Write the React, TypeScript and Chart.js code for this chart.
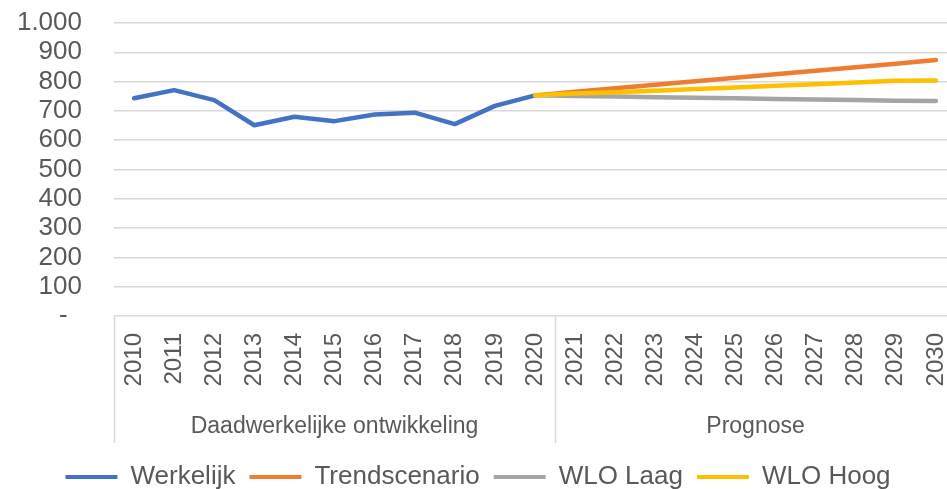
import React, { useEffect, useRef } from 'react';
import { Chart, registerables } from 'chart.js';

Chart.register(...registerables);

const YEARS = ['2010', '2011', '2012', '2013', '2014', '2015', '2016', '2017', '2018', '2019', '2020',
  '2021', '2022', '2023', '2024', '2025', '2026', '2027', '2028', '2029', '2030'];
const N10 = [null, null, null, null, null, null, null, null, null, null];
const WERKELIJK = [743, 771, 737, 651, 680, 665, 688, 694, 655, 717, 753, ...N10];
const TRENDSCENARIO = [...N10, 753, 765, 777, 789, 801, 813, 825, 837, 849, 861, 874];
const WLO_LAAG = [...N10, 753, 751, 749, 747, 745, 743, 741, 739, 737, 735, 734];
const WLO_HOOG = [...N10, 753, 759, 764, 769, 775, 780, 786, 791, 797, 803, 804];
const GROUP_LABELS = ['Daadwerkelijke ontwikkeling', 'Prognose'];
const GROUP_SIZES = [11, 10];
const Y_MIN = 0;
const Y_MAX = 1000;
const Y_STEP = 100;

const TEXT = '#595959';
const GRID = '#d9d9d9';
const FONT = "'Liberation Sans', Arial, sans-serif";

function fmt(v: number): string {
  if (v === 0) return '-  ';
  return String(v).replace(/\B(?=(\d{3})+(?!\d))/g, '.');
}

const groupPlugin = {
  id: 'groupAxis',
  afterDraw(chart: any) {
    const { ctx, scales, chartArea } = chart;
    const x = scales.x;
    const step = x.getPixelForValue(1) - x.getPixelForValue(0);
    const top = chartArea.bottom;
    const bottom = 443;
    ctx.save();
    ctx.strokeStyle = GRID;
    ctx.lineWidth = 1.5;
    let idx = 0;
    const bounds: number[] = [x.getPixelForValue(0) - step / 2];
    GROUP_SIZES.forEach((n) => {
      idx += n;
      bounds.push(x.getPixelForValue(idx - 1) + step / 2);
    });
    bounds.forEach((bx) => {
      ctx.beginPath();
      ctx.moveTo(Math.round(bx) + 0.5, top);
      ctx.lineTo(Math.round(bx) + 0.5, bottom);
      ctx.stroke();
    });
    ctx.fillStyle = TEXT;
    ctx.font = `23px ${FONT}`;
    ctx.textAlign = 'center';
    ctx.textBaseline = 'middle';
    GROUP_LABELS.forEach((label, i) => {
      ctx.fillText(label, (bounds[i] + bounds[i + 1]) / 2, 427);
    });
    ctx.restore();
  },
};

export default function App() {
  const ref = useRef<HTMLCanvasElement | null>(null);

  useEffect(() => {
    document.body.style.margin = '0';
    document.body.style.overflow = 'hidden';
    const canvas = ref.current;
    if (!canvas) return;
    const mk = (label: string, data: (number | null)[], color: string, order: number) => ({
      label,
      data,
      borderColor: color,
      backgroundColor: color,
      borderWidth: 4.5,
      pointRadius: 0,
      pointHoverRadius: 0,
      tension: 0,
      borderCapStyle: 'round' as const,
      borderJoinStyle: 'round' as const,
      spanGaps: false,
      order,
    });
    const chart = new Chart(canvas, {
      type: 'line',
      data: {
        labels: YEARS,
        datasets: [
          mk('Werkelijk', WERKELIJK, '#4472C4', 3),
          mk('Trendscenario', TRENDSCENARIO, '#ED7D31', 2),
          mk('WLO Laag', WLO_LAAG, '#A5A5A5', 1),
          mk('WLO Hoog', WLO_HOOG, '#FFC000', 0),
        ],
      },
      options: {
        animation: false,
        responsive: true,
        maintainAspectRatio: false,
        layout: { padding: { top: 23, right: 4, left: 0, bottom: 0 } },
        plugins: {
          tooltip: { enabled: false },
          legend: {
            position: 'bottom',
            labels: {
              boxWidth: 52,
              boxHeight: 4,
              padding: 14,
              color: TEXT,
              font: { family: FONT, size: 26 },
              sort: (a: any, b: any) => a.datasetIndex - b.datasetIndex,
              generateLabels: (c: any) =>
                Chart.defaults.plugins.legend.labels.generateLabels(c).map((it: any) => ({
                  ...it,
                  lineWidth: 0,
                  fillStyle: it.strokeStyle,
                })),
            },
          },
        },
        scales: {
          x: {
            offset: true,
            grid: { display: false, drawTicks: false, offset: true },
            border: { display: false },
            afterFit: (s: any) => {
              s.height = 134;
              s.paddingLeft = 0;
              s.paddingRight = 0;
            },
            ticks: {
              autoSkip: false,
              minRotation: 90,
              maxRotation: 90,
              padding: 17,
              color: TEXT,
              font: { family: FONT, size: 24 },
            },
          },
          y: {
            min: Y_MIN,
            max: Y_MAX,
            afterFit: (s: any) => {
              s.width = 114;
              s.paddingTop = 0;
              s.paddingBottom = 0;
            },
            grid: { color: GRID, lineWidth: 1.5, drawTicks: false },
            border: { display: false },
            ticks: {
              stepSize: Y_STEP,
              autoSkip: false,
              padding: 32,
              color: TEXT,
              font: { family: FONT, size: 26 },
              callback: (v: any) => fmt(Number(v)),
            },
          },
        },
      },
      plugins: [groupPlugin],
    });
    return () => chart.destroy();
  }, []);

  return (
    <div style={{ width: 960, height: 500, position: 'relative' }}>
      <canvas ref={ref} />
    </div>
  );
}
